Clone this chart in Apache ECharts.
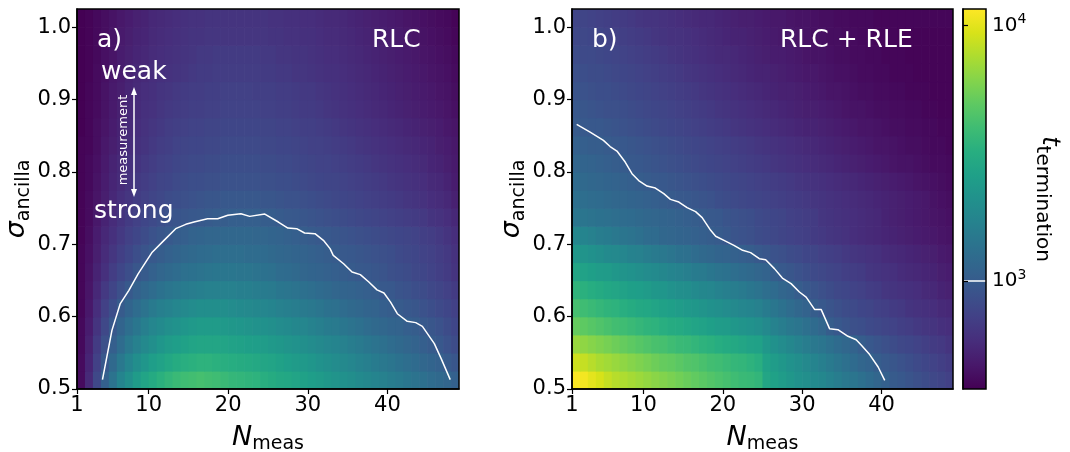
<!DOCTYPE html>
<html><head><meta charset="utf-8">
<script src="https://cdn.jsdelivr.net/npm/echarts@6/dist/echarts.min.js"></script>
<style>html,body{margin:0;padding:0;background:#fff}#c{width:1070px;height:452px}</style>
</head><body><div id="c"></div>
<script>
// ---- categories / axes ----
const nMeas = [1,2,3,4,5,6,7,8,9,10,11,12,13,14,15,16,17,18,19,20,21,22,23,24,25,26,27,28,29,30,31,32,33,34,35,36,37,38,39,40,41,42,43,44,45,46,47,48];
const sigmaRows = [0.5,0.525,0.55,0.575,0.6,0.625,0.65,0.675,0.7,0.725,0.75,0.775,0.8,0.825,0.85,0.875,0.9,0.925,0.95,0.975,1.0];
const xTicks = [1,10,20,30,40];
const yTicks = [0.5,0.6,0.7,0.8,0.9,1.0];
const cbarTicks = [3,4];           // log10 of 10^3, 10^4
const logTMin = 2.578, logTMax = 4.064;
const contourLevel = 3;            // t = 10^3

// ---- series values: log10(t_termination), rows = sigma (bottom->top), cols = N_meas ----
const logT_RLC = [
[2.62,2.75,2.9,3.03,3.14,3.24,3.31,3.38,3.44,3.48,3.52,3.55,3.58,3.6,3.61,3.62,3.61,3.6,3.58,3.56,3.55,3.54,3.53,3.51,3.49,3.47,3.46,3.44,3.42,3.4,3.38,3.36,3.34,3.32,3.3,3.28,3.26,3.24,3.22,3.2,3.18,3.16,3.14,3.12,3.1,3.08,3.06,3.03],
[2.62,2.73,2.86,2.98,3.08,3.17,3.24,3.3,3.35,3.4,3.43,3.46,3.49,3.51,3.52,3.53,3.53,3.52,3.51,3.5,3.49,3.48,3.47,3.45,3.44,3.42,3.4,3.38,3.37,3.35,3.33,3.31,3.29,3.27,3.25,3.23,3.21,3.19,3.17,3.15,3.13,3.11,3.09,3.07,3.05,3.03,3.0,2.97],
[2.61,2.71,2.83,2.94,3.02,3.1,3.17,3.22,3.27,3.31,3.35,3.38,3.4,3.42,3.44,3.45,3.45,3.45,3.44,3.43,3.42,3.41,3.4,3.39,3.37,3.36,3.34,3.33,3.31,3.29,3.27,3.25,3.24,3.22,3.2,3.18,3.16,3.14,3.12,3.1,3.08,3.06,3.04,3.02,3.0,2.98,2.95,2.92],
[2.61,2.69,2.8,2.9,2.98,3.05,3.11,3.16,3.21,3.25,3.28,3.31,3.33,3.35,3.37,3.38,3.38,3.38,3.37,3.36,3.35,3.34,3.33,3.32,3.31,3.29,3.28,3.26,3.25,3.23,3.21,3.19,3.18,3.16,3.14,3.12,3.1,3.08,3.07,3.05,3.04,3.02,3.01,2.99,2.97,2.95,2.92,2.89],
[2.6,2.67,2.77,2.86,2.93,3.0,3.05,3.1,3.14,3.18,3.21,3.23,3.25,3.27,3.29,3.3,3.3,3.3,3.3,3.29,3.28,3.27,3.26,3.25,3.24,3.22,3.21,3.2,3.18,3.17,3.15,3.13,3.12,3.1,3.08,3.07,3.05,3.04,3.02,3.01,3.0,2.98,2.97,2.95,2.93,2.91,2.89,2.86],
[2.6,2.66,2.74,2.82,2.88,2.94,2.99,3.03,3.07,3.1,3.13,3.15,3.17,3.19,3.2,3.21,3.22,3.22,3.22,3.22,3.21,3.21,3.2,3.19,3.18,3.16,3.15,3.14,3.12,3.11,3.09,3.08,3.06,3.05,3.04,3.03,3.02,3.01,2.99,2.98,2.96,2.95,2.93,2.92,2.9,2.88,2.86,2.83],
[2.6,2.65,2.72,2.78,2.84,2.89,2.93,2.97,3.0,3.03,3.06,3.08,3.1,3.12,3.13,3.14,3.15,3.16,3.16,3.16,3.15,3.15,3.14,3.13,3.12,3.1,3.09,3.08,3.06,3.05,3.04,3.03,3.02,3.01,3.0,2.99,2.98,2.97,2.96,2.94,2.93,2.92,2.9,2.89,2.87,2.85,2.83,2.8],
[2.6,2.64,2.7,2.76,2.81,2.85,2.89,2.93,2.96,2.99,3.01,3.03,3.05,3.07,3.08,3.09,3.1,3.11,3.11,3.11,3.11,3.1,3.1,3.09,3.08,3.07,3.06,3.05,3.04,3.03,3.02,3.01,3.0,2.99,2.98,2.97,2.96,2.95,2.94,2.93,2.91,2.9,2.89,2.87,2.86,2.84,2.82,2.79],
[2.59,2.63,2.69,2.74,2.78,2.82,2.86,2.89,2.92,2.95,2.97,2.99,3.01,3.02,3.04,3.05,3.06,3.06,3.07,3.07,3.07,3.07,3.06,3.06,3.05,3.04,3.03,3.02,3.01,3.0,2.99,2.98,2.97,2.96,2.95,2.94,2.93,2.92,2.91,2.9,2.89,2.88,2.87,2.85,2.84,2.82,2.8,2.77],
[2.59,2.62,2.67,2.72,2.76,2.8,2.83,2.86,2.89,2.91,2.93,2.95,2.96,2.97,2.98,2.99,3.0,3.01,3.01,3.02,3.02,3.02,3.02,3.01,3.01,3.0,2.99,2.98,2.97,2.96,2.95,2.94,2.93,2.92,2.91,2.9,2.89,2.88,2.87,2.86,2.85,2.84,2.83,2.82,2.8,2.79,2.77,2.74],
[2.59,2.62,2.66,2.7,2.74,2.78,2.81,2.84,2.86,2.88,2.9,2.92,2.93,2.94,2.95,2.96,2.97,2.97,2.98,2.98,2.98,2.98,2.98,2.97,2.97,2.96,2.95,2.95,2.94,2.93,2.92,2.91,2.9,2.89,2.88,2.87,2.86,2.85,2.84,2.83,2.82,2.81,2.8,2.79,2.77,2.76,2.74,2.71],
[2.59,2.61,2.65,2.69,2.73,2.76,2.79,2.82,2.84,2.86,2.88,2.89,2.91,2.92,2.93,2.93,2.94,2.94,2.95,2.95,2.95,2.95,2.95,2.94,2.94,2.93,2.93,2.92,2.91,2.9,2.89,2.88,2.88,2.87,2.86,2.85,2.84,2.83,2.82,2.81,2.8,2.79,2.78,2.77,2.75,2.74,2.72,2.69],
[2.59,2.61,2.64,2.68,2.72,2.75,2.78,2.8,2.82,2.84,2.86,2.87,2.89,2.9,2.91,2.91,2.92,2.92,2.93,2.93,2.93,2.93,2.93,2.92,2.92,2.91,2.91,2.9,2.89,2.88,2.87,2.87,2.86,2.85,2.84,2.83,2.82,2.81,2.8,2.79,2.78,2.77,2.76,2.75,2.73,2.72,2.7,2.68],
[2.59,2.6,2.63,2.67,2.7,2.73,2.76,2.78,2.8,2.82,2.84,2.85,2.87,2.88,2.89,2.89,2.9,2.9,2.91,2.91,2.91,2.91,2.91,2.9,2.9,2.89,2.89,2.88,2.87,2.86,2.86,2.85,2.84,2.83,2.82,2.81,2.8,2.79,2.78,2.77,2.76,2.75,2.74,2.73,2.72,2.7,2.69,2.67],
[2.58,2.6,2.63,2.66,2.69,2.72,2.75,2.77,2.79,2.81,2.82,2.84,2.85,2.86,2.87,2.87,2.88,2.88,2.89,2.89,2.89,2.89,2.89,2.88,2.88,2.87,2.87,2.86,2.85,2.85,2.84,2.83,2.82,2.81,2.8,2.79,2.78,2.77,2.76,2.75,2.74,2.73,2.72,2.71,2.7,2.69,2.67,2.66],
[2.58,2.6,2.62,2.65,2.68,2.71,2.74,2.76,2.78,2.79,2.81,2.82,2.83,2.84,2.85,2.85,2.86,2.86,2.87,2.87,2.87,2.87,2.87,2.86,2.86,2.85,2.85,2.84,2.83,2.83,2.82,2.81,2.8,2.79,2.78,2.77,2.76,2.75,2.74,2.73,2.72,2.71,2.7,2.69,2.68,2.67,2.66,2.64],
[2.58,2.6,2.62,2.65,2.68,2.7,2.73,2.75,2.77,2.78,2.8,2.81,2.82,2.83,2.84,2.84,2.85,2.85,2.86,2.86,2.86,2.86,2.85,2.85,2.85,2.84,2.84,2.83,2.82,2.82,2.81,2.8,2.79,2.78,2.77,2.76,2.75,2.74,2.73,2.72,2.71,2.7,2.69,2.68,2.67,2.66,2.65,2.63],
[2.58,2.59,2.62,2.64,2.67,2.69,2.72,2.74,2.75,2.77,2.78,2.79,2.8,2.81,2.82,2.83,2.83,2.84,2.84,2.84,2.84,2.84,2.84,2.83,2.83,2.82,2.82,2.81,2.81,2.8,2.79,2.78,2.78,2.77,2.76,2.75,2.74,2.73,2.72,2.71,2.7,2.69,2.68,2.67,2.66,2.65,2.64,2.62],
[2.58,2.59,2.61,2.64,2.66,2.69,2.71,2.73,2.74,2.76,2.77,2.78,2.79,2.8,2.81,2.82,2.82,2.83,2.83,2.83,2.83,2.83,2.83,2.82,2.82,2.81,2.81,2.8,2.8,2.79,2.78,2.77,2.77,2.76,2.75,2.74,2.73,2.72,2.71,2.7,2.69,2.68,2.67,2.66,2.65,2.64,2.63,2.61],
[2.58,2.59,2.61,2.63,2.66,2.68,2.7,2.72,2.73,2.75,2.76,2.77,2.78,2.79,2.8,2.8,2.81,2.81,2.81,2.81,2.81,2.81,2.81,2.81,2.8,2.8,2.79,2.79,2.78,2.78,2.77,2.76,2.76,2.75,2.74,2.73,2.72,2.71,2.7,2.69,2.68,2.67,2.66,2.65,2.64,2.63,2.62,2.6],
[2.58,2.59,2.61,2.63,2.65,2.67,2.69,2.71,2.72,2.74,2.75,2.76,2.77,2.78,2.79,2.79,2.8,2.8,2.8,2.8,2.8,2.8,2.8,2.8,2.79,2.79,2.78,2.78,2.77,2.77,2.76,2.75,2.75,2.74,2.73,2.72,2.71,2.7,2.69,2.68,2.67,2.66,2.65,2.64,2.63,2.62,2.61,2.59]
];

const logT_RLC_RLE = [
[4.06,4.04,4.0,3.97,3.93,3.9,3.88,3.86,3.84,3.82,3.8,3.78,3.76,3.74,3.72,3.7,3.68,3.66,3.64,3.62,3.6,3.58,3.57,3.55,3.45,3.42,3.39,3.36,3.33,3.31,3.28,3.26,3.23,3.2,3.17,3.15,3.12,3.09,3.06,3.03,3.0,2.98,2.96,2.94,2.92,2.9,2.88,2.86],
[3.95,3.93,3.9,3.87,3.85,3.83,3.81,3.79,3.77,3.75,3.73,3.71,3.7,3.68,3.66,3.65,3.63,3.61,3.6,3.58,3.56,3.55,3.53,3.51,3.42,3.39,3.36,3.33,3.3,3.27,3.24,3.21,3.18,3.15,3.12,3.09,3.06,3.04,3.01,2.99,2.97,2.95,2.93,2.91,2.89,2.87,2.85,2.83],
[3.83,3.81,3.79,3.77,3.75,3.73,3.71,3.69,3.67,3.65,3.63,3.62,3.6,3.58,3.57,3.55,3.53,3.52,3.5,3.48,3.47,3.45,3.43,3.42,3.36,3.32,3.29,3.26,3.23,3.2,3.17,3.15,3.12,3.09,3.07,3.04,3.01,2.98,2.96,2.94,2.92,2.9,2.89,2.87,2.85,2.83,2.82,2.8],
[3.71,3.69,3.67,3.65,3.63,3.61,3.6,3.58,3.56,3.54,3.53,3.51,3.49,3.48,3.46,3.44,3.43,3.41,3.39,3.38,3.36,3.34,3.33,3.31,3.27,3.23,3.2,3.17,3.15,3.12,3.09,3.06,3.01,2.98,2.96,2.94,2.93,2.91,2.9,2.88,2.87,2.85,2.84,2.82,2.81,2.8,2.78,2.77],
[3.62,3.6,3.58,3.56,3.54,3.53,3.51,3.49,3.47,3.46,3.44,3.42,3.41,3.39,3.37,3.36,3.34,3.32,3.31,3.29,3.27,3.25,3.24,3.22,3.19,3.16,3.13,3.1,3.07,3.04,3.01,2.98,2.96,2.94,2.92,2.91,2.89,2.88,2.86,2.85,2.83,2.82,2.8,2.79,2.78,2.77,2.75,2.74],
[3.54,3.52,3.5,3.48,3.46,3.45,3.43,3.41,3.4,3.38,3.36,3.35,3.33,3.31,3.3,3.28,3.26,3.25,3.23,3.21,3.2,3.18,3.16,3.14,3.11,3.09,3.06,3.04,3.01,2.98,2.96,2.94,2.92,2.9,2.89,2.87,2.86,2.84,2.83,2.81,2.8,2.79,2.78,2.77,2.75,2.74,2.72,2.71],
[3.45,3.43,3.41,3.39,3.38,3.36,3.34,3.33,3.31,3.29,3.28,3.26,3.24,3.23,3.21,3.19,3.18,3.16,3.14,3.13,3.11,3.09,3.08,3.06,3.04,3.01,2.99,2.97,2.95,2.93,2.91,2.9,2.88,2.87,2.85,2.84,2.83,2.81,2.8,2.79,2.78,2.76,2.75,2.74,2.73,2.72,2.7,2.69],
[3.36,3.34,3.32,3.3,3.28,3.27,3.25,3.23,3.22,3.2,3.18,3.17,3.15,3.13,3.12,3.1,3.08,3.07,3.05,3.04,3.03,3.02,3.01,2.99,2.97,2.95,2.94,2.92,2.91,2.89,2.88,2.86,2.85,2.84,2.82,2.81,2.8,2.79,2.78,2.76,2.75,2.74,2.73,2.72,2.71,2.7,2.68,2.67],
[3.26,3.24,3.22,3.2,3.19,3.17,3.15,3.14,3.12,3.1,3.09,3.07,3.06,3.05,3.04,3.03,3.02,3.01,3.0,2.98,2.96,2.95,2.94,2.92,2.91,2.9,2.88,2.87,2.86,2.85,2.83,2.82,2.81,2.8,2.79,2.77,2.76,2.75,2.74,2.73,2.72,2.71,2.7,2.69,2.68,2.67,2.66,2.65],
[3.16,3.15,3.14,3.13,3.12,3.11,3.1,3.09,3.08,3.07,3.06,3.05,3.04,3.03,3.02,3.01,3.0,2.99,2.98,2.96,2.95,2.94,2.93,2.91,2.9,2.89,2.88,2.86,2.85,2.84,2.83,2.81,2.8,2.79,2.78,2.77,2.76,2.75,2.74,2.72,2.71,2.7,2.69,2.68,2.67,2.66,2.65,2.64],
[3.12,3.11,3.1,3.09,3.08,3.07,3.06,3.05,3.04,3.03,3.02,3.01,3.0,2.99,2.98,2.97,2.96,2.95,2.93,2.92,2.91,2.9,2.89,2.88,2.87,2.86,2.85,2.84,2.83,2.82,2.81,2.8,2.79,2.78,2.77,2.76,2.75,2.74,2.73,2.72,2.71,2.7,2.69,2.68,2.67,2.65,2.64,2.63],
[3.09,3.08,3.07,3.06,3.05,3.04,3.03,3.02,3.01,3.0,2.99,2.98,2.97,2.96,2.95,2.94,2.93,2.92,2.91,2.9,2.89,2.88,2.87,2.86,2.85,2.84,2.83,2.82,2.81,2.8,2.79,2.78,2.77,2.76,2.75,2.74,2.73,2.72,2.71,2.7,2.69,2.68,2.67,2.66,2.65,2.64,2.63,2.62],
[3.06,3.05,3.04,3.03,3.02,3.01,3.0,2.99,2.98,2.97,2.96,2.95,2.94,2.93,2.92,2.91,2.9,2.89,2.88,2.87,2.86,2.85,2.84,2.83,2.82,2.81,2.8,2.79,2.78,2.77,2.76,2.75,2.74,2.73,2.72,2.71,2.7,2.69,2.68,2.67,2.66,2.65,2.65,2.64,2.63,2.62,2.62,2.61],
[3.03,3.02,3.01,3.01,3.0,2.99,2.98,2.97,2.96,2.95,2.94,2.93,2.92,2.91,2.9,2.89,2.88,2.87,2.86,2.85,2.84,2.83,2.82,2.81,2.8,2.79,2.78,2.77,2.76,2.75,2.74,2.73,2.72,2.71,2.7,2.69,2.68,2.67,2.66,2.66,2.65,2.64,2.63,2.63,2.62,2.61,2.61,2.6],
[3.0,2.99,2.98,2.98,2.97,2.96,2.95,2.94,2.93,2.92,2.91,2.9,2.89,2.88,2.87,2.86,2.85,2.84,2.83,2.82,2.81,2.8,2.79,2.78,2.77,2.76,2.75,2.74,2.73,2.72,2.72,2.71,2.7,2.69,2.68,2.67,2.66,2.66,2.65,2.64,2.63,2.63,2.62,2.62,2.61,2.61,2.6,2.6],
[2.98,2.97,2.96,2.95,2.94,2.94,2.93,2.92,2.91,2.9,2.89,2.88,2.87,2.86,2.85,2.84,2.83,2.82,2.81,2.8,2.79,2.78,2.77,2.76,2.75,2.74,2.73,2.72,2.71,2.7,2.7,2.69,2.68,2.67,2.66,2.65,2.65,2.64,2.63,2.63,2.62,2.62,2.61,2.61,2.6,2.6,2.59,2.59],
[2.96,2.95,2.94,2.93,2.93,2.92,2.91,2.9,2.89,2.88,2.87,2.86,2.85,2.84,2.83,2.82,2.81,2.8,2.79,2.78,2.77,2.76,2.75,2.74,2.73,2.72,2.71,2.71,2.7,2.69,2.68,2.67,2.66,2.66,2.65,2.64,2.63,2.63,2.62,2.62,2.61,2.61,2.6,2.6,2.6,2.59,2.59,2.59],
[2.94,2.93,2.92,2.92,2.91,2.9,2.89,2.88,2.87,2.86,2.85,2.84,2.83,2.82,2.81,2.8,2.79,2.78,2.77,2.76,2.75,2.74,2.73,2.72,2.72,2.71,2.7,2.69,2.68,2.67,2.67,2.66,2.65,2.64,2.64,2.63,2.62,2.62,2.61,2.61,2.6,2.6,2.6,2.59,2.59,2.59,2.59,2.59],
[2.92,2.91,2.91,2.9,2.89,2.88,2.87,2.86,2.85,2.84,2.83,2.82,2.81,2.8,2.79,2.78,2.77,2.76,2.75,2.75,2.74,2.73,2.72,2.71,2.7,2.69,2.69,2.68,2.67,2.66,2.65,2.65,2.64,2.63,2.63,2.62,2.62,2.61,2.61,2.6,2.6,2.6,2.59,2.59,2.59,2.59,2.59,2.59],
[2.9,2.9,2.89,2.88,2.87,2.86,2.85,2.84,2.83,2.82,2.81,2.8,2.79,2.79,2.78,2.77,2.76,2.75,2.74,2.73,2.72,2.72,2.71,2.7,2.69,2.68,2.67,2.67,2.66,2.65,2.64,2.64,2.63,2.63,2.62,2.62,2.61,2.61,2.6,2.6,2.6,2.59,2.59,2.59,2.59,2.59,2.59,2.59],
[2.88,2.88,2.87,2.86,2.85,2.84,2.83,2.82,2.81,2.8,2.8,2.79,2.78,2.77,2.76,2.75,2.74,2.74,2.73,2.72,2.71,2.7,2.7,2.69,2.68,2.67,2.67,2.66,2.65,2.65,2.64,2.63,2.63,2.62,2.62,2.61,2.61,2.61,2.6,2.6,2.6,2.6,2.6,2.6,2.6,2.6,2.6,2.6]
];

// ---- contour lines at t = 10^3 (N_meas, sigma) ----
const contourRLC = [[4.2,0.513],[5.39,0.581],[6.44,0.618],[7.5,0.636],[8.68,0.659],[10.45,0.689],[11.9,0.705],[13.4,0.7215],[14.67,0.7275],[15.7,0.7307],[17.4,0.7353],[18.68,0.7353],[19.95,0.74],[21.6,0.7422],[22.7,0.7385],[24.6,0.7417],[26.3,0.7307],[27.5,0.7224],[28.6,0.7215],[29.6,0.7155],[30.9,0.7146],[31.96,0.7054],[32.8,0.6939],[33.2,0.6847],[34.5,0.673],[35.56,0.6616],[36.6,0.658],[37.67,0.6478],[38.7,0.637],[39.57,0.6326],[40.4,0.62],[41.25,0.604],[42.5,0.5935],[43.57,0.5917],[44.4,0.5866],[45.9,0.5627],[46.76,0.542],[47.9,0.513]];
const contourRLC_RLE = [[1.59,0.8656],[3.28,0.855],[4.96,0.8435],[5.8,0.835],[6.66,0.8288],[7.7,0.8136],[8.56,0.7975],[9.4,0.788],[10.45,0.7804],[11.5,0.7776],[12.56,0.7699],[13.4,0.762],[14.46,0.7583],[15.5,0.7505],[16.57,0.745],[17.4,0.7367],[18.47,0.7192],[19.1,0.711],[20.15,0.7054],[21.4,0.6985],[22.5,0.6916],[23.5,0.6884],[24.6,0.6801],[25.4,0.6787],[26.5,0.6663],[27.5,0.6533],[28.6,0.6456],[29.65,0.634],[30.5,0.627],[31.56,0.61],[32.4,0.6097],[33.45,0.5834],[34.5,0.582],[35.77,0.5728],[36.8,0.568],[37.46,0.5604],[38.5,0.5475],[39.57,0.5304],[40.4,0.512]];

// ---- build ----
const viridis = ['#440154','#48186a','#472d7b','#424086','#3b528b','#33638d','#2c728e','#26828e','#21918c','#1fa088','#28ae80','#3fbc73','#5ec962','#84d44b','#addc30','#d8e219','#fde725'];
const FONT = 'DejaVu Sans';
const rowH = sigmaRows[1] - sigmaRows[0];
const colW = nMeas[1] - nMeas[0];

function toCells(table) {
  const out = [];
  table.forEach((row, k) => row.forEach((v, j) => out.push([nMeas[j], sigmaRows[k], v])));
  return out;
}
function renderCell(params, api) {
  const x0 = api.value(0), y0 = api.value(1);
  const a = api.coord([x0, y0 + rowH]);
  const b = api.coord([x0 + colW, y0]);
  return { type: 'rect', shape: { x: a[0], y: a[1], width: b[0] - a[0] + 0.7, height: b[1] - a[1] + 0.7 },
           style: { fill: api.visual('color') } };
}

const grids = [
  { left: 77, top: 9, width: 382, height: 380 },
  { left: 572, top: 9, width: 381, height: 380 },
  { left: 963, top: 9, width: 23, height: 380 }
].map(g => Object.assign({ show: true, z: 10, borderColor: '#000', borderWidth: 1.5,
  backgroundColor: 'rgba(0,0,0,0)', containLabel: false, outerBoundsMode: 'none' }, g));

const tickStyle = { show: true, length: 5, lineStyle: { color: '#000', width: 1.2 } };
const lblStyle = { color: '#000', fontSize: 21, fontFamily: FONT };
const subRich = {
  n: { fontSize: 27, fontStyle: 'italic', fontFamily: FONT, color: '#000' },
  s: { fontSize: 19, fontFamily: FONT, color: '#000', padding: [14, 0, 0, 0] }
};

function xAx(gi) {
  return { gridIndex: gi, type: 'value', min: 1, max: 49, z: 10,
    axisLine: { show: true, lineStyle: { color: '#000', width: 1.5 } },
    axisTick: Object.assign({ customValues: xTicks }, tickStyle),
    axisLabel: Object.assign({ customValues: xTicks, margin: 6 }, lblStyle),
    splitLine: { show: false },
    name: '{n|N}{s|meas}', nameLocation: 'middle', nameGap: 32,
    nameTextStyle: { rich: subRich } };
}
function yAx(gi) {
  return { gridIndex: gi, type: 'value', min: 0.5, max: 1.025, z: 10,
    axisLine: { show: true, lineStyle: { color: '#000', width: 1.5 } },
    axisTick: Object.assign({ customValues: yTicks }, tickStyle),
    axisLabel: Object.assign({ customValues: yTicks, margin: 6, formatter: v => v.toFixed(1) }, lblStyle),
    splitLine: { show: false },
    name: '{n|σ}{s|ancilla}', nameLocation: 'middle', nameGap: 41,
    nameTextStyle: { rich: subRich } };
}

const whiteText = (text, x, y, size, extra) => Object.assign({
  type: 'text', x, y, z: 100,
  style: { text, fill: '#fff', fontSize: size, fontFamily: FONT, textVerticalAlign: 'middle', verticalAlign: 'middle' }
}, extra || {});

const option = {
  animation: false,
  backgroundColor: '#fff',
  grid: grids,
  xAxis: [xAx(0), xAx(1), { gridIndex: 2, type: 'value', min: 0, max: 1, show: false }],
  yAxis: [yAx(0), yAx(1), {
    gridIndex: 2, type: 'value', min: logTMin, max: logTMax, position: 'right', z: 10,
    axisLine: { show: true, lineStyle: { color: '#000', width: 1.5 } },
    axisTick: Object.assign({ customValues: cbarTicks }, tickStyle),
    axisLabel: Object.assign({ customValues: cbarTicks, margin: 6,
      formatter: v => '10{sup|' + Math.round(v) + '}',
      rich: { sup: { fontSize: 14, fontFamily: FONT, color: '#000', padding: [0, 0, 12, 0] } } }, lblStyle, { fontSize: 20 }),
    splitLine: { show: false }
  }],
  visualMap: { type: 'continuous', show: false, min: logTMin, max: logTMax, dimension: 2,
    seriesIndex: [0, 1], inRange: { color: viridis } },
  series: [
    { type: 'custom', xAxisIndex: 0, yAxisIndex: 0, data: toCells(logT_RLC), renderItem: renderCell, clip: true, silent: true },
    { type: 'custom', xAxisIndex: 1, yAxisIndex: 1, data: toCells(logT_RLC_RLE), renderItem: renderCell, clip: true, silent: true },
    { type: 'line', xAxisIndex: 0, yAxisIndex: 0, data: contourRLC, symbol: 'none', z: 5, silent: true,
      lineStyle: { color: '#fff', width: 1.5 } },
    { type: 'line', xAxisIndex: 1, yAxisIndex: 1, data: contourRLC_RLE, symbol: 'none', z: 5, silent: true,
      lineStyle: { color: '#fff', width: 1.5 } },
    { type: 'custom', xAxisIndex: 2, yAxisIndex: 2, data: [[0, logTMin]], silent: true,
      renderItem: (p, api) => {
        const a = api.coord([0, logTMax]), b = api.coord([1, logTMin]);
        return { type: 'rect', shape: { x: a[0], y: a[1], width: b[0] - a[0], height: b[1] - a[1] },
          style: { fill: new echarts.graphic.LinearGradient(0, 1, 0, 0,
            viridis.map((c, i) => ({ offset: i / (viridis.length - 1), color: c }))) } };
      } },
    { type: 'line', xAxisIndex: 2, yAxisIndex: 2, data: [[0, contourLevel], [1, contourLevel]], symbol: 'none', z: 5,
      silent: true, lineStyle: { color: '#fff', width: 1.5 } }
  ],
  graphic: [
    whiteText('a)', 97, 40, 25),
    whiteText('RLC', 372, 40, 25),
    whiteText('b)', 592, 40, 25),
    whiteText('RLC + RLE', 780, 40, 25),
    whiteText('weak', 101, 72, 25),
    whiteText('strong', 94, 211, 25),
    { type: 'text', x: 124, y: 140, rotation: Math.PI / 2, z: 100,
      style: { text: 'measurement', fill: '#fff', fontSize: 13, fontFamily: FONT, align: 'center', textAlign: 'center', verticalAlign: 'middle', textVerticalAlign: 'middle' } },
    { type: 'line', z: 100, shape: { x1: 134, y1: 92, x2: 134, y2: 192 }, style: { stroke: '#fff', lineWidth: 1.5 } },
    { type: 'polygon', z: 100, shape: { points: [[134, 87], [131, 95], [137, 95]] }, style: { fill: '#fff' } },
    { type: 'polygon', z: 100, shape: { points: [[134, 197], [131, 189], [137, 189]] }, style: { fill: '#fff' } },
    { type: 'text', x: 1049, y: 199, rotation: -Math.PI / 2, z: 100,
      style: { text: '{t|t}{s|termination}', align: 'center', textAlign: 'center', verticalAlign: 'middle', textVerticalAlign: 'middle',
        rich: { t: { fontSize: 24, fontStyle: 'italic', fontFamily: FONT, fill: '#000', color: '#000' },
                s: { fontSize: 20, fontFamily: FONT, fill: '#000', color: '#000', padding: [14, 0, 0, 0] } } } }
  ]
};

const chart = echarts.init(document.getElementById('c'), null, { renderer: 'canvas' });
chart.setOption(option);
</script>
</body></html>
